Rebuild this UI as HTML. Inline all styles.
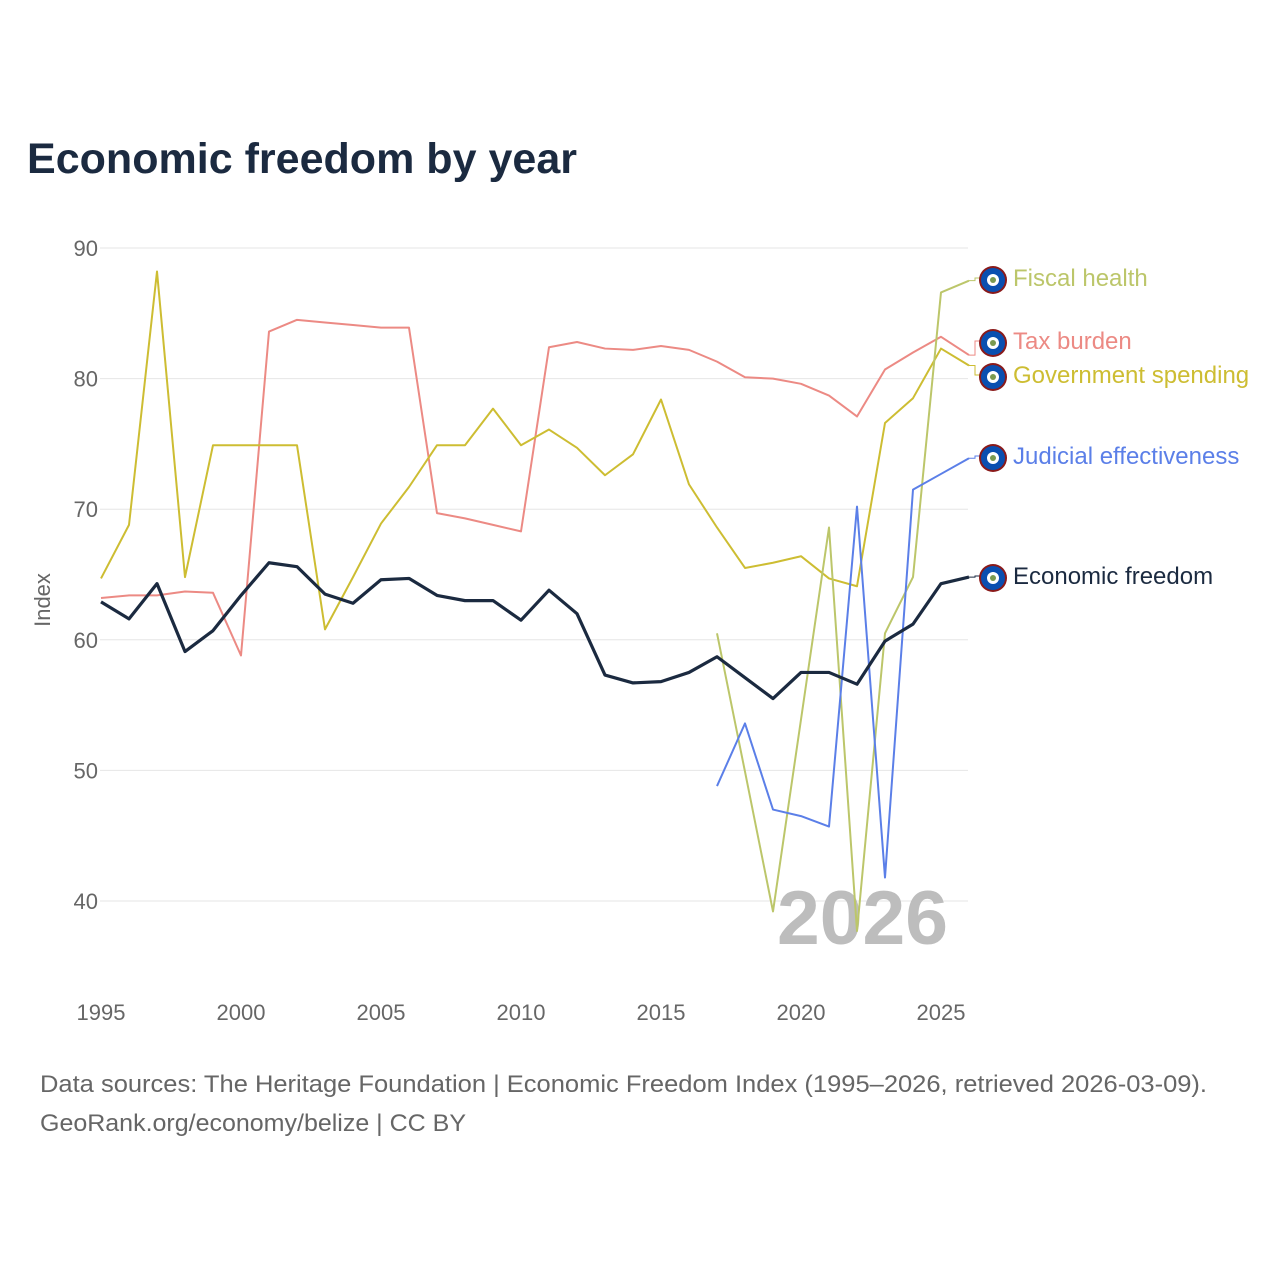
<!DOCTYPE html>
<html><head><meta charset="utf-8">
<style>
body{margin:0;background:#fff;font-family:"Liberation Sans",sans-serif;}
svg text{font-family:"Liberation Sans",sans-serif;}
</style></head>
<body>
<svg width="1280" height="1280" viewBox="0 0 1280 1280" xmlns="http://www.w3.org/2000/svg">
<rect width="1280" height="1280" fill="#fff"/>
<text x="27" y="173" font-size="43" font-weight="bold" fill="#1b2a40" textLength="550" lengthAdjust="spacingAndGlyphs">Economic freedom by year</text>
<g id="grid"></g>
<text x="777" y="944" font-size="76" font-weight="bold" fill="#bdbdbd" textLength="171" lengthAdjust="spacingAndGlyphs">2026</text>
<g id="series"></g>
<g id="labels"></g>
<text transform="translate(50,600) rotate(-90)" font-size="22" fill="#666" text-anchor="middle">Index</text>
<text x="40" y="1092" font-size="24" fill="#666" textLength="1167" lengthAdjust="spacingAndGlyphs">Data sources: The Heritage Foundation | Economic Freedom Index (1995–2026, retrieved 2026-03-09).</text>
<text x="40" y="1131" font-size="24" fill="#666" textLength="426" lengthAdjust="spacingAndGlyphs">GeoRank.org/economy/belize | CC BY</text>
</svg>
<script>
const years=[];for(let y=1995;y<=2026;y++)years.push(y);
const yTicks=[40,50,60,70,80,90];
const xTicks=[1995,2000,2005,2010,2015,2020,2025];
const econ=[62.9,61.6,64.3,59.1,60.7,63.4,65.9,65.6,63.5,62.8,64.6,64.7,63.4,63.0,63.0,61.5,63.8,62.0,57.3,56.7,56.8,57.5,58.7,57.1,55.5,57.5,57.5,56.6,59.9,61.2,64.3,64.8];
const tax=[63.2,63.4,63.4,63.7,63.6,58.8,83.6,84.5,84.3,84.1,83.9,83.9,69.7,69.3,68.8,68.3,82.4,82.8,82.3,82.2,82.5,82.2,81.3,80.1,80.0,79.6,78.7,77.1,80.7,82.0,83.2,81.8];
const gov=[64.7,68.8,88.2,64.8,74.9,74.9,74.9,74.9,60.8,64.8,68.9,71.7,74.9,74.9,77.7,74.9,76.1,74.7,72.6,74.2,78.4,71.9,68.6,65.5,65.9,66.4,64.7,64.1,76.6,78.5,82.3,81.0];
const fiscal=[null,null,null,null,null,null,null,null,null,null,null,null,null,null,null,null,null,null,null,null,null,null,60.5,49.9,39.2,53.9,68.6,37.7,60.5,64.8,86.6,87.5];
const judicial=[null,null,null,null,null,null,null,null,null,null,null,null,null,null,null,null,null,null,null,null,null,null,48.8,53.6,47.0,46.5,45.7,70.2,41.8,71.5,72.7,73.9];
const NS="http://www.w3.org/2000/svg";
const xs=y=>101+(y-1995)*28;
const ys=v=>901-(v-40)*13.06;
function mk(tag,attrs,parent){const e=document.createElementNS(NS,tag);for(const k in attrs)e.setAttribute(k,attrs[k]);parent.appendChild(e);return e;}
const grid=document.getElementById('grid');
yTicks.forEach(t=>{
 const l=mk('line',{x1:100,x2:968,y1:ys(t),y2:ys(t),stroke:'#e6e6e6','stroke-width':1},grid);
 
 
 const tx=mk('text',{x:98,y:ys(t)+8,'font-size':22,fill:'#666','text-anchor':'end'},grid);tx.textContent=t;
 
 
});
xTicks.forEach(t=>{
 const tx=mk('text',{x:xs(t),y:1020,'font-size':22,fill:'#666','text-anchor':'middle'},grid);tx.textContent=t;
 
 
});
const series=[
 {name:'Tax burden',data:tax,color:'#ec8a84',w:2,ly:341},
 {name:'Government spending',data:gov,color:'#cdbd32',w:2,ly:375},
 {name:'Fiscal health',data:fiscal,color:'#bcc66a',w:2,ly:278},
 {name:'Judicial effectiveness',data:judicial,color:'#5b7fe8',w:2,ly:456},
 {name:'Economic freedom',data:econ,color:'#1b2a40',w:3.2,ly:576,tc:'#1b2a40'}
];
const sg=document.getElementById('series'),lg=document.getElementById('labels');
series.forEach(s=>{
 const slug=s.name.toLowerCase().replace(/ /g,'-');
 let d='',pen=false,last=null;
 s.data.forEach((v,i)=>{if(v==null){pen=false;return;}d+=(pen?'L':'M')+xs(years[i])+','+ys(v);pen=true;last=v;});
 const p=mk('path',{d:d,fill:'none',stroke:s.color,'stroke-width':s.w,'stroke-linejoin':'round'},sg);
 
 
 const ex=xs(2026),ey=ys(last);
 mk('path',{d:`M${ex},${ey}L${ex+6},${ey}L${ex+6},${s.ly}L980,${s.ly}`,fill:'none',stroke:s.color,'stroke-width':1},lg);
 const g=mk('g',{},lg);
 
 
 mk('circle',{cx:993,cy:s.ly+2,r:14,fill:'#8a1a1a'},g);
 mk('circle',{cx:993,cy:s.ly+2,r:12,fill:'#0a4fb0'},g);
 mk('circle',{cx:993,cy:s.ly+2,r:6,fill:'#fff'},g);
 mk('circle',{cx:993,cy:s.ly+2,r:3,fill:'#7a9a50'},g);
 const t=mk('text',{x:1013,y:s.ly+8,'font-size':24,fill:s.tc||s.color},lg);t.textContent=s.name;
 
 
});
</script>
</body></html>
